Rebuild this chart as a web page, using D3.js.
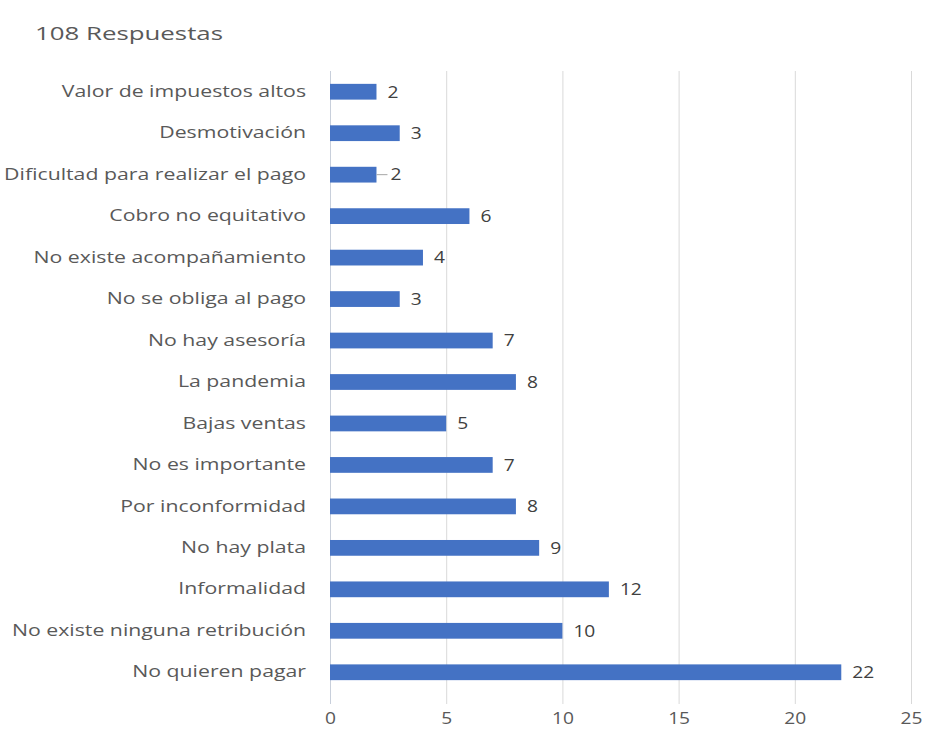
<!DOCTYPE html>
<html>
<head>
<meta charset="utf-8">
<script src="https://cdn.jsdelivr.net/npm/d3@7"></script>
<style>
  html, body { margin: 0; padding: 0; background: #ffffff; }
  svg { display: block; }
  text { font-family: "Open Sans", "Noto Sans", sans-serif; }
</style>
</head>
<body>
<svg id="chart" width="926" height="734"></svg>
<script>
// Reasons for not paying taxes (108 responses)
const categories = [
  "Valor de impuestos altos",
  "Desmotivación",
  "Dificultad para realizar el pago",
  "Cobro no equitativo",
  "No existe acompañamiento",
  "No se obliga al pago",
  "No hay asesoría",
  "La pandemia",
  "Bajas ventas",
  "No es importante",
  "Por inconformidad",
  "No hay plata",
  "Informalidad",
  "No existe ninguna retribución",
  "No quieren pagar"
];
const values = [2, 3, 2, 6, 4, 3, 7, 8, 5, 7, 8, 9, 12, 10, 22];
const xTicks = [0, 5, 10, 15, 20, 25];
const title = "108 Respuestas";
// category whose value label sits away from the bar with a short leader line
const leaderCategories = ["Dificultad para realizar el pago"];

const svg = d3.select("#chart");
const margin = { left: 330, top: 71 };
const FONT = "\"Open Sans\", \"Noto Sans\", sans-serif";

// wide text rendering: horizontal stretch around the text anchor point
const TEXT_STRETCH = 1.33;
const NUM_STRETCH = 1.2;

const x = d3.scaleLinear()
  .domain([0, 25])
  .range([margin.left, 911]);

const y = d3.scaleBand()
  .domain(categories)
  .range([margin.top, 693])
  .paddingInner(0.62)
  .paddingOuter(0.31);

// title
svg.append("text")
  .attr("transform", `translate(35,40) scale(1.36,1)`)
  .attr("fill", "#595959")
  .attr("font-size", 19)
  .text(title);

// vertical gridlines
const grid = svg.append("g")
  .attr("transform", `translate(0,${margin.top})`)
  .call(d3.axisTop(x).tickValues(xTicks).tickSize(-(704 - margin.top)).tickFormat(""));
grid.select(".domain").remove();
grid.selectAll(".tick line")
  .attr("stroke", d => d === 0 ? "#c8cfdb" : "#d9d9d9")
  .attr("stroke-width", 1);

// x tick labels
const xAxis = svg.append("g")
  .attr("transform", `translate(0,704)`)
  .call(d3.axisBottom(x).tickValues(xTicks).tickSize(0).tickPadding(9));
xAxis.select(".domain").remove();
xAxis.selectAll("text")
  .attr("fill", "#595959")
  .attr("font-size", 16)
  .attr("font-family", FONT)
  .attr("transform", `scale(${NUM_STRETCH},1)`);

// category labels
const yAxis = svg.append("g")
  .attr("transform", `translate(${margin.left},0)`)
  .call(d3.axisLeft(y).tickSize(0).tickPadding(0));
yAxis.select(".domain").remove();
yAxis.selectAll("text")
  .attr("x", -24 / TEXT_STRETCH)
  .attr("fill", "#595959")
  .attr("font-size", 16)
  .attr("font-family", FONT)
  .attr("transform", `scale(${TEXT_STRETCH},1)`);

const data = categories.map((c, i) => ({ category: c, value: values[i] }));

// bars
svg.append("g")
  .selectAll("rect")
  .data(data)
  .join("rect")
  .attr("x", x(0))
  .attr("y", d => y(d.category))
  .attr("width", d => x(d.value) - x(0))
  .attr("height", y.bandwidth())
  .attr("fill", "#4472c4");

// leader lines
svg.append("g")
  .selectAll("line")
  .data(data.filter(d => leaderCategories.includes(d.category)))
  .join("line")
  .attr("x1", d => x(d.value))
  .attr("x2", d => x(d.value) + 11)
  .attr("y1", d => y(d.category) + y.bandwidth() / 2)
  .attr("y2", d => y(d.category) + y.bandwidth() / 2)
  .attr("stroke", "#a6a6a6")
  .attr("stroke-width", 1);

// value labels
svg.append("g")
  .selectAll("text")
  .data(data)
  .join("text")
  .attr("transform", d => {
    const lx = x(d.value) + (leaderCategories.includes(d.category) ? 14 : 11);
    const ly = y(d.category) + y.bandwidth() / 2;
    return `translate(${lx},${ly}) scale(${NUM_STRETCH},1)`;
  })
  .attr("dy", "0.36em")
  .attr("fill", "#404040")
  .attr("font-size", 16)
  .text(d => d.value);
</script>
</body>
</html>
